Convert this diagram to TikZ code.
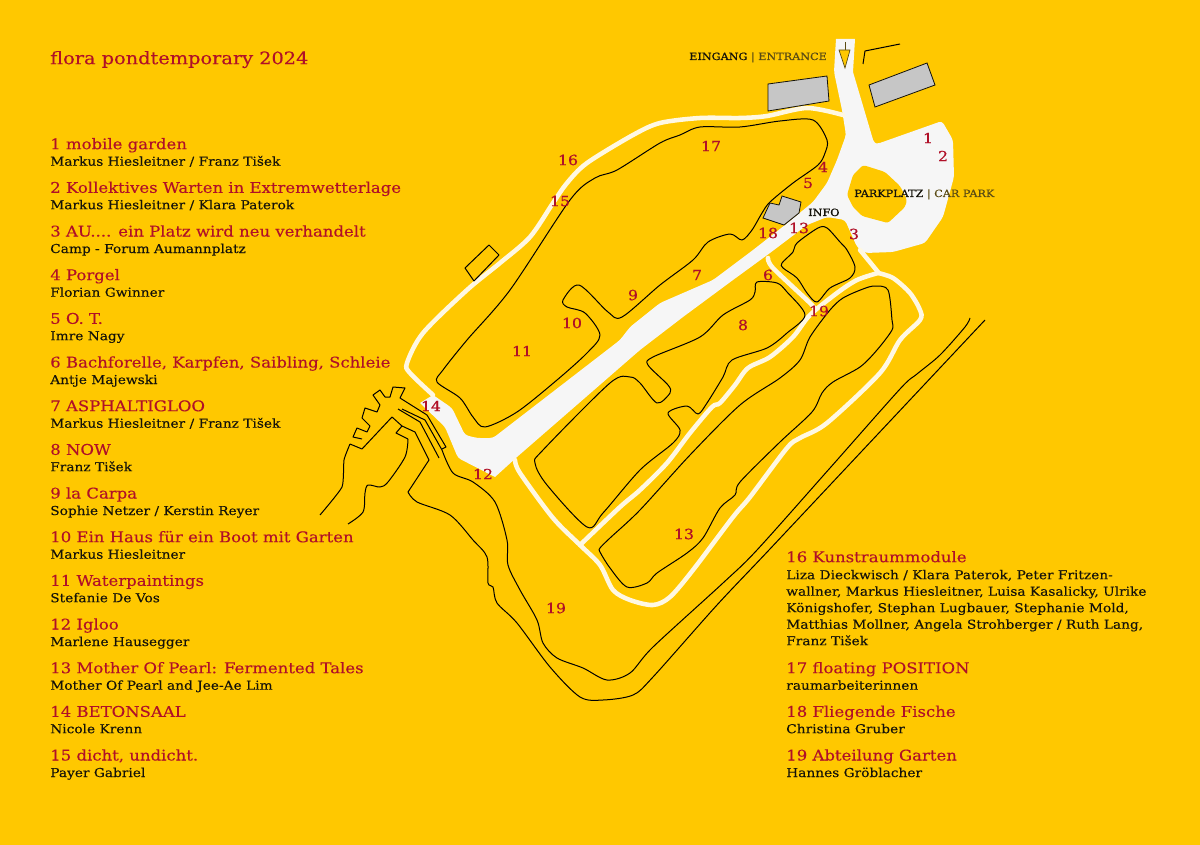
\documentclass[tikz,border=0pt]{standalone}
\usepackage{fontspec}
\setmainfont[FakeStretch=1.12,FakeBold=0.2]{DejaVu Serif}
\newfontfamily\strongfont[FakeStretch=1.12,FakeBold=0.7]{DejaVu Serif}
\usepackage{xcolor}
\usetikzlibrary{positioning}
\definecolor{pondyellow}{RGB}{255, 200, 0}
\definecolor{pondred}{RGB}{176, 16, 40}
\definecolor{pondroad}{RGB}{246, 246, 246}
\definecolor{pondpath}{RGB}{255, 248, 226}
\definecolor{pondgrey}{RGB}{198, 198, 198}
\definecolor{pondink}{RGB}{20, 18, 10}
\definecolor{pondsoft}{RGB}{90, 75, 20}
\tikzstyle{headline} = [anchor=base west, inner sep=0pt, yshift=0.6pt, text=pondred, font=\fontsize{11.05}{13}\selectfont]
\tikzstyle{artist} = [anchor=base west, inner sep=0pt, yshift=0.6pt, text=pondink, font=\fontsize{9.2}{12.5}\selectfont]
\tikzstyle{mapnum} = [inner sep=0pt, text=pondred, font=\strongfont\fontsize{10.5}{12}\selectfont]
\tikzstyle{place} = [anchor=base west, inner sep=0pt, text=pondink, font=\fontsize{7.5}{8}\selectfont]
\tikzstyle{footpath} = [draw=pondpath, line width=3.4pt, line join=round, line cap=round]
\tikzstyle{shore} = [draw=black, line width=0.75pt, line join=round]
\tikzstyle{building} = [draw=pondink, line width=0.6pt, fill=pondgrey]

\begin{document}
\begin{tikzpicture}[x=0.75pt, y=-0.75pt]

\fill[pondyellow] (0,0) rectangle (1200,845);

% road and car park =============================
\fill[pondroad, rounded corners=2.5pt] (835,55) [sharp corners] -- (836,39) -- (855,39) -- (853,72) [rounded corners=2.5pt] -- (874,143) -- (877,144) -- (942,121) -- (953,140) -- (954,177) -- (943,217) -- (925,243) -- (893,252) -- (865,253) -- (857,247) -- (845,220) -- (827,217) -- (807,225) -- (770,253) -- (733,280) -- (683,317) -- (640,350) -- (517,457) [sharp corners] -- (495,477) [rounded corners=2.5pt] -- (458,458) -- (445,427) [sharp corners] -- (420,403) -- (433,395) [rounded corners=2.5pt] -- (452,408) -- (465,435) -- (477,438) -- (493,438) -- (620,340) -- (630,327) -- (660,303) -- (713,280) -- (753,250) -- (785,225) -- (813,202) -- (827,183) -- (837,160) -- (846,135) -- (842,110) -- (834,72) -- cycle;
\fill[pondyellow, rounded corners=2pt] (863,165) -- (885,172) -- (900,186) -- (907,200) -- (905,207) -- (888,223) -- (862,216) -- (853,207) -- (847,195) -- (853,175) -- cycle;

% footpaths
\draw[footpath] plot[smooth, tension=0.5] coordinates {(843,115) (807,108) (767,116) (740,118) (700,118) (660,123) (633,135) (587,163) (567,183) (553,203) (530,237) (500,263) (467,290) (423,333) (407,363) (410,373) (433,395)};
\draw[footpath] plot[smooth, tension=0.5] coordinates {(768,258) (773,268) (810,303) (815,310)};
\draw[footpath] (860,250) -- (878,272);
\draw[footpath] plot[smooth, tension=0.5] coordinates {(878,273) (857,280) (837,293) (810,315) (793,337) (770,357) (748,368) (735,385) (720,403) (712,407) (690,433) (667,463) (640,490) (620,507) (580,545)};
\draw[footpath] plot[smooth, tension=0.5] coordinates {(515,460) (520,473) (553,518) (580,545) (600,565) (613,590) (630,600) (653,605) (670,597) (693,570) (733,517) (750,497) (787,448) (800,438) (827,423) (880,373) (900,340) (920,320) (920,310) (910,293) (893,278) (878,273)};

% garden outlines
\draw[shore] plot[smooth cycle, tension=0.5] coordinates {(680,135) (700,127) (740,127) (780,121) (813,120) (827,140) (825,153) (818,165) (793,183) (770,202) (762,213) (752,230) (742,240) (730,234) (708,242) (693,260) (660,285) (622,317) (608,312) (579,285) (563,300) (567,307) (585,313) (600,335) (587,353) (557,380) (517,412) (485,427) (473,417) (460,398) (437,382) (443,370) (467,340) (510,290) (570,200) (595,178) (617,170) (660,143)};
\draw[shore] plot[smooth cycle, tension=0.5] coordinates {(757,282) (777,283) (787,292) (805,315) (787,333) (767,348) (732,360) (723,377) (707,403) (698,414) (687,406) (668,413) (680,430) (673,443) (640,470) (603,513) (587,527) (547,485) (535,463) (543,450) (610,383) (630,377) (640,383) (657,403) (670,393) (668,385) (648,365) (653,357) (700,337) (723,315) (750,300) (755,292)};
\draw[shore] plot[smooth cycle, tension=0.5] coordinates {(818,228) (827,228) (840,242) (847,250) (855,267) (850,278) (830,288) (817,302) (807,293) (797,278) (783,268) (782,263) (793,252) (797,243)};
\draw[shore] plot[smooth cycle, tension=0.5] coordinates {(640,510) (690,455) (740,405) (780,378) (800,360) (810,337) (830,310) (843,298) (863,289) (875,286) (888,290) (892,320) (892,330) (877,350) (860,367) (833,382) (822,393) (812,412) (780,442) (740,482) (735,495) (720,508) (703,538) (687,553) (657,573) (647,583) (627,587) (610,568) (600,552) (600,548) (610,538)};

% shore and jetty
\draw[shore] plot[smooth, tension=0.5] coordinates {(970,318) (965,327) (940,355) (917,374) (900,389) (830,468) (757,550) (723,583) (653,647) (630,673) (607,680) (583,668) (557,658) (543,643) (537,620) (520,590) (508,565) (507,540) (495,502) (473,482) (453,473) (442,450)};
\draw[shore] (442,450) -- (425,420) -- (402,409);
\draw[shore] plot[smooth, tension=0.5] coordinates {(985,320) (877,435) (769,550) (717,605) (653,677) (633,695) (603,700) (580,697) (550,667) (517,623) (497,603) (493,587) (488,583) (487,557) (473,540) (450,515) (417,502) (408,492)};
\draw[shore] (408,492) -- (429,460) -- (415,432) -- (402,426);
\draw[shore] (398,409) -- (420,422) -- (439,458);
\draw[shore] (442,449) -- (446,447) -- (427,415) -- (400,398) -- (405,388) -- (393,387) -- (390,397) -- (385,397) -- (380,390) -- (373,395) -- (380,405) -- (377,412) -- (365,408) -- (362,418) -- (370,426) -- (367,432) -- (357,428) -- (353,437) -- (362,439);
\draw[shore] plot[smooth, tension=0.3] coordinates {(320,515) (342,487) (344,460) (350,444)};
\draw[shore] (350,444) -- (362,449) -- (392,417) -- (402,426) -- (396,433) -- (408,439);
\draw[shore] plot[smooth, tension=0.5] coordinates {(408,439) (405,457) (388,482) (380,487) (368,485) (365,493) (363,512) (348,524)};

% buildings
\draw[building] (768,84) -- (827,76) -- (829,101) -- (768,111) -- cycle;
\draw[building] (869,85) -- (927,63) -- (935,85) -- (875,107) -- cycle;
\draw[building] (770,203) -- (779,205) -- (782,196) -- (801,202) -- (799,213) -- (784,225) -- (763,218) -- cycle;
\draw[shore] (863,64) -- (865,51) -- (900,44);
\draw[shore] (465,268) -- (489,245) -- (499,255) -- (474,281) -- cycle;

% entrance arrow
\draw[pondsoft, line width=0.5pt] (845,42) -- (845,50);
\draw[pondsoft, line width=0.5pt, fill=pondyellow] (839,50) -- (850,50) -- (845,68) -- cycle;

% places
\node[place] (entrance) at (689,60) {{\strongfont EINGANG} {\color{pondsoft}| ENTRANCE}};
\node[place] (carpark) at (854,197) {{\strongfont PARKPLATZ} {\color{pondsoft}| CAR PARK}};
\node[place] (info) at (808,216) {{\strongfont INFO}};

% numbers on the map
\node[mapnum] (m1) at (928,138) {1};
\node[mapnum] (m2) at (943,156) {2};
\node[mapnum] (m3) at (854,234) {3};
\node[mapnum] (m4) at (823,167) {4};
\node[mapnum] (m5) at (808,183) {5};
\node[mapnum] (m6) at (768,275) {6};
\node[mapnum] (m7) at (697,275) {7};
\node[mapnum] (m8) at (743,325) {8};
\node[mapnum] (m9) at (633,295) {9};
\node[mapnum] (m10) at (572,323) {10};
\node[mapnum] (m11) at (522,351) {11};
\node[mapnum] (m12) at (483,474) {12};
\node[mapnum] (m13) at (799,228) {13};
\node[mapnum] (m13b) at (684,534) {13};
\node[mapnum] (m14) at (431,406) {14};
\node[mapnum] (m15) at (560,201) {15};
\node[mapnum] (m16) at (568,160) {16};
\node[mapnum] (m17) at (711,146) {17};
\node[mapnum] (m18) at (768,233) {18};
\node[mapnum] (m19) at (819,311) {19};
\node[mapnum] (m19b) at (556,608) {19};

% list, left column
\node[headline, font=\fontsize{12.95}{15}\selectfont] (title) at (50,65) {flora pondtemporary 2024};
\node[headline] (t1) at (50,150) {1 mobile garden};
\node[artist] (a1) at (50,166.5) {Markus Hiesleitner / Franz Tišek};
\node[headline] (t2) at (50,193.6) {2 Kollektives Warten in Extremwetterlage};
\node[artist] (a2) at (50,210) {Markus Hiesleitner / Klara Paterok};
\node[headline] (t3) at (50,237.3) {3 AU.... ein Platz wird neu verhandelt};
\node[artist] (a3) at (50,253.8) {Camp - Forum Aumannplatz};
\node[headline] (t4) at (50,281) {4 Porgel};
\node[artist] (a4) at (50,297.5) {Florian Gwinner};
\node[headline] (t5) at (50,324.6) {5 O. T.};
\node[artist] (a5) at (50,341) {Imre Nagy};
\node[headline] (t6) at (50,368.3) {6 Bachforelle, Karpfen, Saibling, Schleie};
\node[artist] (a6) at (50,384.8) {Antje Majewski};
\node[headline] (t7) at (50,412) {7 ASPHALTIGLOO};
\node[artist] (a7) at (50,428.5) {Markus Hiesleitner / Franz Tišek};
\node[headline] (t8) at (50,455.6) {8 NOW};
\node[artist] (a8) at (50,472) {Franz Tišek};
\node[headline] (t9) at (50,499.3) {9 la Carpa};
\node[artist] (a9) at (50,515.8) {Sophie Netzer / Kerstin Reyer};
\node[headline] (t10) at (50,543) {10 Ein Haus für ein Boot mit Garten};
\node[artist] (a10) at (50,559.5) {Markus Hiesleitner};
\node[headline] (t11) at (50,586.6) {11 Waterpaintings};
\node[artist] (a11) at (50,603) {Stefanie De Vos};
\node[headline] (t12) at (50,630.3) {12 Igloo};
\node[artist] (a12) at (50,646.8) {Marlene Hausegger};
\node[headline] (t13) at (50,674) {13 Mother Of Pearl: Fermented Tales};
\node[artist] (a13) at (50,690.5) {Mother Of Pearl and Jee-Ae Lim};
\node[headline] (t14) at (50,717.6) {14 BETONSAAL};
\node[artist] (a14) at (50,734) {Nicole Krenn};
\node[headline] (t15) at (50,761.3) {15 dicht, undicht.};
\node[artist] (a15) at (50,777.8) {Payer Gabriel};

% list, right column
\node[headline] (t16) at (786,563) {16 Kunstraummodule};
\node[artist] (a16a) at (786,580) {Liza Dieckwisch / Klara Paterok, Peter Fritzen-};
\node[artist] (a16b) at (786,596.5) {wallner, Markus Hiesleitner, Luisa Kasalicky, Ulrike};
\node[artist] (a16c) at (786,613) {Königshofer, Stephan Lugbauer, Stephanie Mold,};
\node[artist] (a16d) at (786,629.5) {Matthias Mollner, Angela Strohberger / Ruth Lang,};
\node[artist] (a16e) at (786,646) {Franz Tišek};
\node[headline] (t17) at (786,674) {17 floating POSITION};
\node[artist] (a17) at (786,690.5) {raumarbeiterinnen};
\node[headline] (t18) at (786,717.6) {18 Fliegende Fische};
\node[artist] (a18) at (786,734) {Christina Gruber};
\node[headline] (t19) at (786,761.3) {19 Abteilung Garten};
\node[artist] (a19) at (786,777.8) {Hannes Gröblacher};

\end{tikzpicture}
\end{document}
